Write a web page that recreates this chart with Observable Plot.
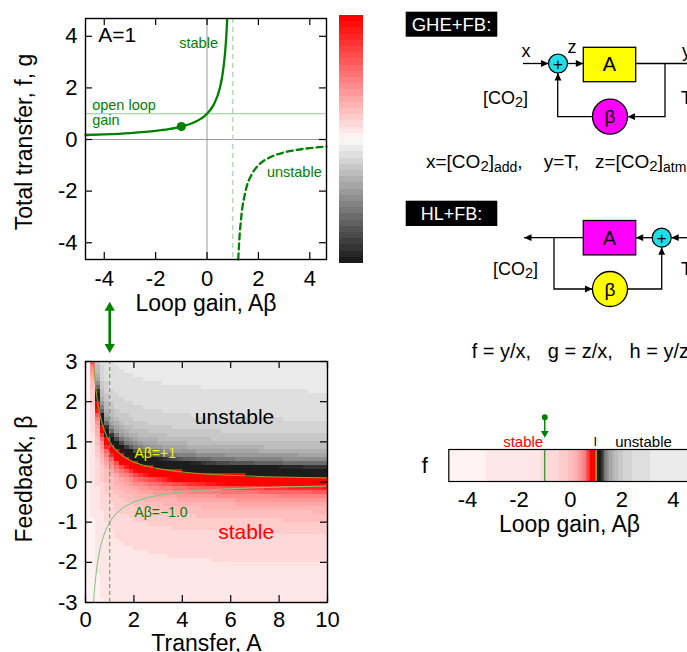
<!DOCTYPE html>
<html><head><meta charset="utf-8">
<script src="https://cdn.jsdelivr.net/npm/d3@7"></script>
<script src="https://cdn.jsdelivr.net/npm/@observablehq/plot@0.6"></script>
<style>
html,body{margin:0;padding:0;background:#fff;overflow:hidden}
#fig{position:relative;width:687px;height:652px;overflow:hidden;font-family:"Liberation Sans",Arial,Helvetica,sans-serif}
#fig > svg{position:absolute}
</style></head><body><div id="fig"></div>
<script>
// ---------- data ----------
const loopGainTicks = [-4, -2, 0, 2, 4];
const transferTicks = [-4, -2, 0, 2, 4];
const transferATicks = [0, 2, 4, 6, 8, 10];
const feedbackTicks = [-3, -2, -1, 0, 1, 2, 3];

// top panel, A = 1: total transfer f vs loop gain
const stableLoopGain = [-4.73, -4, -3, -2, -1.5, -1, -0.5, 0, 0.25, 0.5, 0.6, 0.7, 0.75, 0.786];
const stableTransfer = [0.175, 0.2, 0.25, 0.333, 0.4, 0.5, 0.667, 1, 1.333, 2, 2.5, 3.333, 4, 4.67];
const unstableLoopGain = [1.215, 1.25, 1.333, 1.5, 1.75, 2, 2.5, 3, 3.5, 4, 4.65];
const unstableTransfer = [-4.65, -4, -3, -2, -1.333, -1, -0.667, -0.5, -0.4, -0.333, -0.274];
const operatingLoopGain = [-1];
const operatingTransfer = [0.5];
const openLoopGain = [1];
const criticalLoopGain = [1];
const amplification = 1;

// bottom panel: curves A*beta = +1 and A*beta = -1
const curveA = [0.333, 0.36, 0.4, 0.45, 0.5, 0.6, 0.75, 1, 1.25, 1.5, 2, 2.5, 3, 4, 5, 6, 8, 10];
const curveBetaPlus = [3, 2.778, 2.5, 2.222, 2, 1.667, 1.333, 1, 0.8, 0.667, 0.5, 0.4, 0.333, 0.25, 0.2, 0.167, 0.125, 0.1];
const curveBetaMinus = [-3, -2.778, -2.5, -2.222, -2, -1.667, -1.333, -1, -0.8, -0.667, -0.5, -0.4, -0.333, -0.25, -0.2, -0.167, -0.125, -0.1];

// heat map grid (transfer A columns, feedback beta rows)
const heatTransfer = d3.range(50).map(i => 0.1 + 0.2 * i);
const heatFeedback = d3.range(60).map(j => -2.95 + 0.1 * j);
// strip grid (loop gain)
const stripLoopGain = d3.range(188).map(i => -4.705 + 0.05 * i);

// ---------- styles ----------
const green = "#008000";
const fontFamily = '"Liberation Sans", Arial, Helvetica, sans-serif';
const colorLimit = 4.67;
const nLev = 20;
const greys = d3.range(nLev).map(i => { const v = Math.round(28 + (246 - 28) * i / (nLev - 1)); return `rgb(${v},${v},${v})`; });
const reds = d3.range(nLev).map(i => { const v = Math.round(255 * (1 - (i + 1) / nLev)); return `rgb(255,${v},${v})`; });
const colorRange = [...greys, ...reds];
const colorThresholds = d3.range(1, 2 * nLev).map(i => -colorLimit + i * (2 * colorLimit / (2 * nLev)));
const colorScale = {type: "threshold", domain: colorThresholds, range: colorRange};
const baseStyle = {fontFamily, background: "transparent", overflow: "visible", color: "black"};

const transfer = (A, b) => A / (1 - A * b);
const heatCells = heatTransfer.flatMap(A => heatFeedback.map(b => ({A, b, f: transfer(A, b)})));
const stripCells = stripLoopGain.map(g => ({g, f: transfer(amplification, g / amplification)}));
const stablePts = stableLoopGain.map((x, i) => ({x, y: stableTransfer[i]}));
const unstablePts = unstableLoopGain.map((x, i) => ({x, y: unstableTransfer[i]}));
const plusPts = curveA.map((A, i) => ({A, b: curveBetaPlus[i]}));
const minusPts = curveA.map((A, i) => ({A, b: curveBetaMinus[i]}));

const fig = document.getElementById("fig");
function place(svg, left, top) { svg.style.left = left + "px"; svg.style.top = top + "px"; fig.appendChild(svg); }
const xLabel = (t, dy) => Plot.text([t], {frameAnchor: "bottom", dy, text: d => d, fontSize: 23, textAnchor: "middle", lineAnchor: "middle"});
const yLabel = (t, dx, dy) => Plot.text([t], {frameAnchor: "left", dx, dy, rotate: -90, text: d => d, fontSize: 23, textAnchor: "middle", lineAnchor: "middle"});

// ---------- top panel ----------
{
  const W = 340, H = 320, mL = 85, mR = 14, mT = 18, mB = 61;
  const fw = W - mL - mR, fh = H - mT - mB;
  const p = Plot.plot({
    width: W, height: H, marginLeft: mL, marginRight: mR, marginTop: mT, marginBottom: mB,
    x: {domain: [-4.73, 4.65]}, y: {domain: [-4.65, 4.69]},
    style: baseStyle,
    marks: [
      Plot.ruleX([0], {stroke: "#9a9a9a", strokeWidth: 1}),
      Plot.ruleY([0], {stroke: "#9a9a9a", strokeWidth: 1}),
      Plot.ruleY(openLoopGain, {y: d => d, stroke: "#a8d4a8", strokeWidth: 1.2}),
      Plot.ruleX(criticalLoopGain, {x: d => d, stroke: "#b6dcb6", strokeWidth: 1.6, strokeDasharray: "5,4"}),
      Plot.line(stablePts, {x: "x", y: "y", stroke: green, strokeWidth: 2.3, curve: "monotone-x"}),
      Plot.line(unstablePts, {x: "x", y: "y", stroke: green, strokeWidth: 2.3, curve: "monotone-x", strokeDasharray: "6,4"}),
      Plot.dot(operatingLoopGain.map((x, i) => ({x, y: operatingTransfer[i]})), {x: "x", y: "y", r: 4.6, fill: green}),
      Plot.text(["A=" + amplification], {x: -4.23, y: 4.03, text: d => d, textAnchor: "start", fontSize: 21}),
      Plot.text(["stable"], {x: -1.08, y: 3.71, text: d => d, textAnchor: "start", fontSize: 14.5, fill: green}),
      Plot.text(["open loop"], {x: -4.47, y: 1.32, text: d => d, textAnchor: "start", fontSize: 14.5, fill: green}),
      Plot.text(["gain"], {x: -4.47, y: 0.76, text: d => d, textAnchor: "start", fontSize: 14.5, fill: green}),
      Plot.text(["unstable"], {x: 2.33, y: -1.27, text: d => d, textAnchor: "start", fontSize: 14.5, fill: green}),
      Plot.tickX(loopGainTicks, {x: d => d, insetTop: fh - 7, stroke: "black", strokeWidth: 1.2}),
      Plot.tickX(loopGainTicks, {x: d => d, insetBottom: fh - 7, stroke: "black", strokeWidth: 1.2}),
      Plot.tickY(transferTicks, {y: d => d, insetRight: fw - 7, stroke: "black", strokeWidth: 1.2}),
      Plot.tickY(transferTicks, {y: d => d, insetLeft: fw - 7, stroke: "black", strokeWidth: 1.2}),
      Plot.frame({stroke: "black", strokeWidth: 1.4}),
      Plot.axisX({ticks: loopGainTicks, tickSize: 0, tickPadding: 11, fontSize: 22, tickFormat: d => String(d), label: null}),
      Plot.axisY({ticks: transferTicks, tickSize: 0, tickPadding: 8, fontSize: 22, tickFormat: d => String(d), label: null}),
      xLabel("Loop gain, Aβ", 44),
      yLabel("Total transfer, f, g", -61, 3)
    ]
  });
  place(p, 0, 0);
}

// ---------- colour bar ----------
{
  const levels = d3.range(2 * nLev).map(i => ({lo: -colorLimit + i * colorLimit / nLev, hi: -colorLimit + (i + 1) * colorLimit / nLev}));
  const p = Plot.plot({
    width: 24, height: 248, margin: 0,
    x: {domain: [0, 1], axis: null}, y: {domain: [-colorLimit, colorLimit], axis: null},
    color: colorScale, style: baseStyle,
    marks: [Plot.rect(levels, {x1: 0, x2: 1, y1: "lo", y2: "hi", fill: d => (d.lo + d.hi) / 2, shapeRendering: "crispEdges"})]
  });
  place(p, 339, 15);
}

// ---------- heat map ----------
{
  const W = 345, H = 362, mL = 85, mR = 18, mT = 71, mB = 50;
  const fw = W - mL - mR, fh = H - mT - mB;
  const p = Plot.plot({
    width: W, height: H, marginLeft: mL, marginRight: mR, marginTop: mT, marginBottom: mB,
    x: {domain: [0, 10]}, y: {domain: [-3, 3]},
    color: colorScale, style: baseStyle,
    marks: [
      Plot.rect(heatCells, {x1: d => d.A - 0.1, x2: d => d.A + 0.1, y1: d => d.b - 0.05, y2: d => d.b + 0.05, fill: "f", shapeRendering: "crispEdges"}),
      Plot.line(plusPts, {x: "A", y: "b", stroke: "#9c9c2a", strokeWidth: 1.1, curve: "monotone-x"}),
      Plot.line(minusPts, {x: "A", y: "b", stroke: "#8cc48c", strokeWidth: 1.1, curve: "monotone-x"}),
      Plot.ruleX([amplification], {x: d => d, y1: -3, y2: 3, stroke: "#5aa55a", strokeWidth: 1.1, strokeDasharray: "4,3"}),
      Plot.text(["unstable"], {x: 6.16, y: 1.61, text: d => d, fontSize: 21}),
      Plot.text(["stable"], {x: 6.64, y: -1.25, text: d => d, fontSize: 21, fill: "#ff0000"}),
      Plot.text(["Aβ=+1"], {x: 2.02, y: 0.72, text: d => d, textAnchor: "start", fontSize: 14, fill: "#f0f000"}),
      Plot.text(["Aβ=−1.0"], {x: 2.02, y: -0.75, text: d => d, textAnchor: "start", fontSize: 14, fill: green}),
      Plot.tickX(transferATicks, {x: d => d, insetTop: fh - 7, stroke: "black", strokeWidth: 1.2}),
      Plot.tickX(transferATicks, {x: d => d, insetBottom: fh - 7, stroke: "black", strokeWidth: 1.2}),
      Plot.tickY(feedbackTicks, {y: d => d, insetRight: fw - 7, stroke: "black", strokeWidth: 1.2}),
      Plot.tickY(feedbackTicks, {y: d => d, insetLeft: fw - 7, stroke: "black", strokeWidth: 1.2}),
      Plot.frame({stroke: "black", strokeWidth: 1.4}),
      Plot.axisX({ticks: transferATicks, tickSize: 0, tickPadding: 9, fontSize: 22, tickFormat: d => String(d), label: null}),
      Plot.axisY({ticks: feedbackTicks, tickSize: 0, tickPadding: 8, fontSize: 22, tickFormat: d => String(d), label: null}),
      xLabel("Transfer, A", 41),
      yLabel("Feedback, β", -61, -3),
      // double arrow linking the panels (at A = 1)
      Plot.ruleX([amplification], {x: d => d, y1: 3.36, y2: 4.34, stroke: green, strokeWidth: 2.6}),
      Plot.dot([amplification], {x: d => d, y: 4.34, symbol: "triangle", r: 3.8, fill: green}),
      Plot.dot([amplification], {x: d => d, y: 3.36, symbol: "triangle", rotate: 180, r: 3.8, fill: green})
    ]
  });
  place(p, 0, 290);
}

// ---------- strip f(loop gain) ----------
{
  const W = 300, H = 130, mL = 48.3, mR = 10.4, mT = 49, mB = 49;
  const p = Plot.plot({
    width: W, height: H, marginLeft: mL, marginRight: mR, marginTop: mT, marginBottom: mB,
    x: {domain: [-4.73, 4.65]}, y: {domain: [0, 1], axis: null},
    color: colorScale, style: baseStyle,
    marks: [
      Plot.rect(stripCells, {x1: d => d.g - 0.025, x2: d => d.g + 0.025, y1: 0, y2: 1, fill: "f", shapeRendering: "crispEdges"}),
      Plot.ruleX(operatingLoopGain, {x: d => d, y1: 0, y2: 1, stroke: green, strokeWidth: 1}),
      Plot.ruleX(criticalLoopGain, {x: d => d, y1: 0, y2: 1, stroke: "#9c9c2a", strokeWidth: 1.6}),
      Plot.frame({stroke: "black", strokeWidth: 1.2}),
      Plot.text(["stable"], {x: -1.84, y: 1.23, text: d => d, fontSize: 15, fill: "#ff0000"}),
      Plot.text(["unstable"], {x: 2.84, y: 1.23, text: d => d, fontSize: 15}),
      Plot.text(["I"], {x: 0.97, y: 1.23, text: d => d, fontSize: 13}),
      Plot.ruleX(operatingLoopGain, {x: d => d, y1: 1.55, y2: 2.01, stroke: green, strokeWidth: 1.4}),
      Plot.dot(operatingLoopGain, {x: d => d, y: 2.01, r: 3, fill: green}),
      Plot.dot(operatingLoopGain, {x: d => d, y: 1.51, symbol: "triangle", rotate: 180, r: 2.9, fill: green}),
      Plot.axisX({ticks: loopGainTicks, tickSize: 0, tickPadding: 10, fontSize: 22, tickFormat: d => String(d), label: null}),
      xLabel("Loop gain, Aβ", 43),
      Plot.text(["f"], {frameAnchor: "left", dx: -24, text: d => d, fontSize: 22, textAnchor: "middle", lineAnchor: "middle"})
    ]
  });
  place(p, 400, 400);
}

// ---------- block diagrams (schematic annotation) ----------
{
  const head = (x, y, dir) => {
    const a = {right: 0, left: 180, up: -90, down: 90}[dir];
    return `<path d="M0,0 L-7.5,-3.4 L-7.5,3.4 Z" transform="translate(${x},${y}) rotate(${a})" fill="black"/>`;
  };
  const ln = (pts) => `<polyline points="${pts.map(p => p.join(",")).join(" ")}" fill="none" stroke="black" stroke-width="1.3"/>`;
  const sum = (cx, cy) => `<circle cx="${cx}" cy="${cy}" r="9.5" fill="#20dde6" stroke="black" stroke-width="1.2"/><text x="${cx}" y="${cy + 6}" text-anchor="middle" font-size="17">+</text>`;
  const blk = (x, y, fill, t) => `<rect x="${x}" y="${y}" width="52.4" height="34.4" fill="${fill}" stroke="black" stroke-width="1.3"/><text x="${x + 26.2}" y="${y + 24}" text-anchor="middle" font-size="20">${t}</text>`;
  const beta = (cx, cy, fill) => `<circle cx="${cx}" cy="${cy}" r="17.5" fill="${fill}" stroke="black" stroke-width="1.3"/><text x="${cx}" y="${cy + 6.5}" text-anchor="middle" font-size="19">β</text>`;
  const co2 = (x, y, fs) => `<text x="${x}" y="${y}" font-size="${fs}">[CO<tspan font-size="${fs * 0.8}" dy="3">2</tspan><tspan dy="-3">]</tspan></text>`;
  const svg = `
  <svg xmlns="http://www.w3.org/2000/svg" width="687" height="652" style="left:0;top:0;font-family:${fontFamily.replace(/"/g, "'")}">
    <rect x="405.7" y="11.7" width="91.6" height="25" fill="black"/>
    <text x="451.5" y="30.5" text-anchor="middle" font-size="18.5" fill="white">GHE+FB:</text>
    <text x="526" y="57" text-anchor="middle" font-size="18">x</text>
    ${ln([[523, 63.5], [548.5, 63.5]])}${head(548.5, 63.5, "right")}
    ${sum(558, 63.5)}
    <text x="572" y="53" text-anchor="middle" font-size="18">z</text>
    ${ln([[567.5, 63.5], [583.3, 63.5]])}${head(583.3, 63.5, "right")}
    ${blk(583.3, 47.3, "#ffff00", "A")}
    ${ln([[635.7, 63.5], [700, 63.5]])}
    <text x="682" y="57" font-size="18">y</text>
    ${ln([[665, 63.5], [665, 116.7], [627.5, 116.7]])}${head(627.5, 116.7, "left")}
    ${beta(610, 116.7, "#ff00ff")}
    ${ln([[592.5, 116.7], [557.7, 116.7], [557.7, 73]])}${head(558, 73, "up")}
    ${co2(483, 104, 18)}
    <text x="681" y="104" font-size="18">T</text>
    <text x="426" y="168" font-size="19" style="white-space:pre">x=[CO<tspan font-size="15" dy="3">2</tspan><tspan dy="-3">]</tspan><tspan font-size="14" dy="4">add</tspan><tspan dy="-4">,    y=T,   z=[CO</tspan><tspan font-size="15" dy="3">2</tspan><tspan dy="-3">]</tspan><tspan font-size="14" dy="4">atm</tspan></text>

    <rect x="405.7" y="200.7" width="91.6" height="25.3" fill="black"/>
    <text x="451.5" y="220" text-anchor="middle" font-size="18" fill="white">HL+FB:</text>
    ${blk(583.3, 220.5, "#ff00ff", "A")}
    ${ln([[583.3, 237.7], [524, 237.7]])}${head(524, 237.7, "left")}
    ${ln([[554, 237.7], [554, 289], [592.5, 289]])}${head(592.5, 289, "right")}
    ${beta(610, 289, "#ffff00")}
    ${ln([[627.5, 289], [661.7, 289], [661.7, 247.2]])}${head(661.7, 247.2, "up")}
    ${sum(661.7, 237.7)}
    ${ln([[652.2, 237.7], [635.7, 237.7]])}${head(635.7, 237.7, "left")}
    ${ln([[700, 237.7], [671.2, 237.7]])}${head(671.2, 237.7, "left")}
    ${co2(493, 275, 18)}
    <text x="681" y="275" font-size="18">T</text>

    <text x="471.7" y="358" font-size="20" style="white-space:pre">f = y/x,   g = z/x,   h = y/z</text>
  </svg>`;
  fig.insertAdjacentHTML("beforeend", svg);
}
</script>
</body></html>
